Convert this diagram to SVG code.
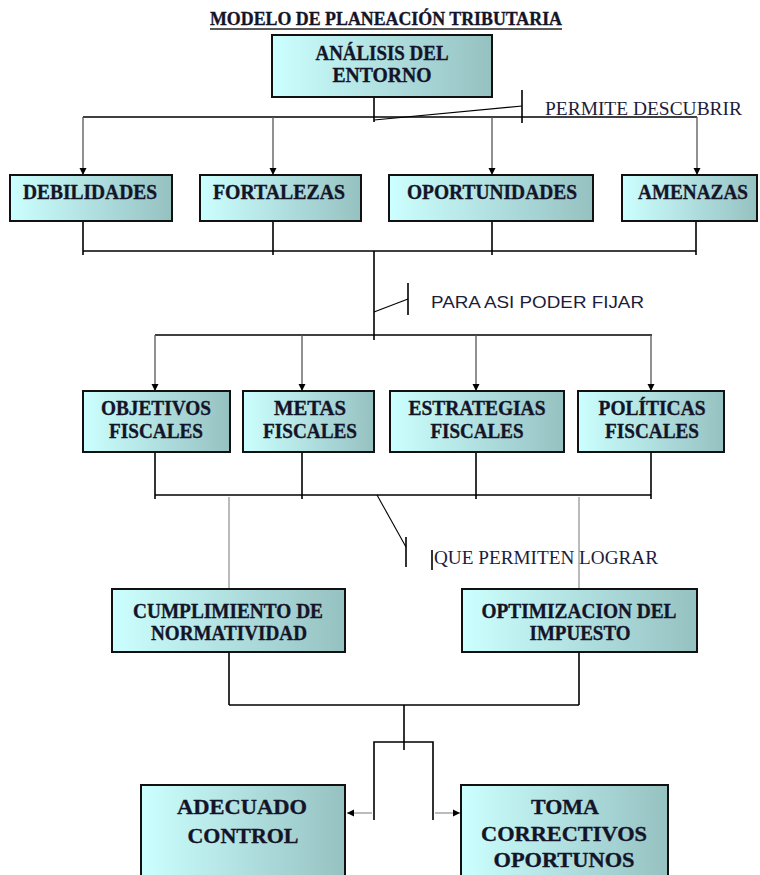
<svg xmlns="http://www.w3.org/2000/svg" width="760" height="875" viewBox="0 0 760 875">
<defs>
<linearGradient id="g" x1="0" y1="0" x2="1" y2="0">
<stop offset="0" stop-color="#ccffff"/>
<stop offset="1" stop-color="#96c1c1"/>
</linearGradient>
<marker id="ah" markerWidth="8" markerHeight="8" refX="7" refY="4" orient="auto" markerUnits="userSpaceOnUse">
<path d="M0,0.5 L7,4 L0,7.5 Z" fill="#000"/>
</marker>
</defs>
<style>
.box{fill:url(#g);stroke:#111;stroke-width:2}
.t{font-family:"Liberation Serif","Times New Roman",serif;font-weight:bold;font-size:20.5px;fill:#141428;stroke:#141428;stroke-width:0.35;text-anchor:middle}
.t5{font-size:22px}
.ttl{font-size:19px}
.lbl{font-family:"Liberation Serif","Times New Roman",serif;font-size:18.5px;fill:#1c1c3a}
.c{stroke:#000;stroke-width:1.6;fill:none}
.thin{stroke:#000;stroke-width:1.1;fill:none}
.g1{stroke:#555;stroke-width:1.3;fill:none}
.g2{stroke:#aaa;stroke-width:1.6;fill:none}
</style>
<g id="title">
<text x="386" y="25" class="t ttl" textLength="352" lengthAdjust="spacingAndGlyphs">MODELO DE PLANEACIÓN TRIBUTARIA</text>
<line x1="210" y1="29" x2="562" y2="29" stroke="#222" stroke-width="1.5"/>
</g>
<g id="connectors">
<line class="c" x1="374" y1="90" x2="374" y2="122"/>
<line class="c" x1="83" y1="117" x2="697" y2="117"/>
<line class="thin" x1="374" y1="120" x2="522" y2="106"/>
<line class="c" x1="522" y1="90" x2="522" y2="123"/>
<line class="g1" x1="83" y1="117" x2="83" y2="175" marker-end="url(#ah)"/>
<line class="g1" x1="273" y1="117" x2="273" y2="175" marker-end="url(#ah)"/>
<line class="g1" x1="492" y1="117" x2="492" y2="175" marker-end="url(#ah)"/>
<line class="g1" x1="697" y1="117" x2="697" y2="175" marker-end="url(#ah)"/>
<line class="c" x1="83" y1="221" x2="83" y2="255"/>
<line class="c" x1="273" y1="221" x2="273" y2="255"/>
<line class="c" x1="492" y1="221" x2="492" y2="255"/>
<line class="c" x1="696" y1="221" x2="696" y2="255"/>
<line class="c" x1="83" y1="251" x2="696" y2="251"/>
<line class="c" x1="374" y1="251" x2="374" y2="340"/>
<line class="thin" x1="374" y1="312" x2="408" y2="299"/>
<line class="c" x1="408" y1="283" x2="408" y2="315"/>
<line class="c" x1="155" y1="335" x2="652" y2="335"/>
<line class="g1" x1="155" y1="335" x2="155" y2="391" marker-end="url(#ah)"/>
<line class="g1" x1="302" y1="335" x2="302" y2="391" marker-end="url(#ah)"/>
<line class="g1" x1="476" y1="335" x2="476" y2="391" marker-end="url(#ah)"/>
<line class="g1" x1="651" y1="335" x2="651" y2="391" marker-end="url(#ah)"/>
<line class="c" x1="155" y1="452" x2="155" y2="499"/>
<line class="c" x1="302" y1="452" x2="302" y2="499"/>
<line class="c" x1="476" y1="452" x2="476" y2="499"/>
<line class="c" x1="651" y1="452" x2="651" y2="499"/>
<line class="c" x1="155" y1="495" x2="651" y2="495"/>
<line class="g2" x1="229" y1="497" x2="229" y2="589"/>
<line class="g2" x1="579" y1="497" x2="579" y2="589"/>
<line class="thin" x1="377" y1="495" x2="406" y2="547"/>
<line class="c" x1="406" y1="537" x2="406" y2="567"/>
<line class="c" x1="432" y1="550" x2="432" y2="570"/>
<line class="c" x1="229" y1="652" x2="229" y2="705"/>
<line class="c" x1="579" y1="652" x2="579" y2="705"/>
<line class="c" x1="229" y1="705" x2="579" y2="705"/>
<line class="c" x1="404" y1="705" x2="404" y2="750"/>
<polyline class="c" points="374,820 374,742 433,742 433,820"/>
<line class="g2" x1="372" y1="813" x2="347" y2="813" marker-end="url(#ah)"/>
<line class="g2" x1="435" y1="813" x2="460" y2="813" marker-end="url(#ah)"/>
</g>
<g id="lbl-permite"><text class="lbl" x="545" y="115" textLength="197" lengthAdjust="spacingAndGlyphs">PERMITE DESCUBRIR</text></g>
<g id="lbl-para"><text class="lbl" x="431" y="308" style="font-family:'Liberation Sans',Arial,sans-serif;font-size:17px" textLength="213" lengthAdjust="spacingAndGlyphs">PARA ASI PODER FIJAR</text></g>
<g id="lbl-que"><text class="lbl" x="434" y="564" textLength="224" lengthAdjust="spacingAndGlyphs">QUE PERMITEN LOGRAR</text></g>
<g id="analisis">
<rect class="box" x="272" y="35" width="220" height="62"/>
<text class="t" x="382" y="60" textLength="133" lengthAdjust="spacingAndGlyphs">ANÁLISIS DEL</text>
<text class="t" x="382" y="82" textLength="99" lengthAdjust="spacingAndGlyphs">ENTORNO</text>
</g>
<g id="debilidades">
<rect class="box" x="10" y="175" width="162" height="46"/>
<text class="t" x="90" y="199" textLength="134" lengthAdjust="spacingAndGlyphs">DEBILIDADES</text>
</g>
<g id="fortalezas">
<rect class="box" x="200" y="175" width="161" height="46"/>
<text class="t" x="279" y="199" textLength="132" lengthAdjust="spacingAndGlyphs">FORTALEZAS</text>
</g>
<g id="oportunidades">
<rect class="box" x="389" y="175" width="204" height="46"/>
<text class="t" x="492" y="199" textLength="170" lengthAdjust="spacingAndGlyphs">OPORTUNIDADES</text>
</g>
<g id="amenazas">
<rect class="box" x="622" y="175" width="135" height="46"/>
<text class="t" x="693" y="199" textLength="110" lengthAdjust="spacingAndGlyphs">AMENAZAS</text>
</g>
<g id="objetivos">
<rect class="box" x="83" y="391" width="147" height="61"/>
<text class="t" x="156" y="415" textLength="110" lengthAdjust="spacingAndGlyphs">OBJETIVOS</text>
<text class="t" x="156" y="438" textLength="94" lengthAdjust="spacingAndGlyphs">FISCALES</text>
</g>
<g id="metas">
<rect class="box" x="243" y="391" width="131" height="61"/>
<text class="t" x="310" y="415" textLength="72" lengthAdjust="spacingAndGlyphs">METAS</text>
<text class="t" x="310" y="438" textLength="94" lengthAdjust="spacingAndGlyphs">FISCALES</text>
</g>
<g id="estrategias">
<rect class="box" x="390" y="391" width="174" height="61"/>
<text class="t" x="477" y="415" textLength="137" lengthAdjust="spacingAndGlyphs">ESTRATEGIAS</text>
<text class="t" x="477" y="438" textLength="93" lengthAdjust="spacingAndGlyphs">FISCALES</text>
</g>
<g id="politicas">
<rect class="box" x="578" y="391" width="146" height="61"/>
<text class="t" x="652" y="415" textLength="107" lengthAdjust="spacingAndGlyphs">POLÍTICAS</text>
<text class="t" x="652" y="438" textLength="94" lengthAdjust="spacingAndGlyphs">FISCALES</text>
</g>
<g id="cumplimiento">
<rect class="box" x="112" y="589" width="233" height="63"/>
<text class="t" x="228" y="618" textLength="190" lengthAdjust="spacingAndGlyphs">CUMPLIMIENTO DE</text>
<text class="t" x="229" y="640" textLength="156" lengthAdjust="spacingAndGlyphs">NORMATIVIDAD</text>
</g>
<g id="optimizacion">
<rect class="box" x="462" y="589" width="235" height="63"/>
<text class="t" x="579" y="618" textLength="195" lengthAdjust="spacingAndGlyphs">OPTIMIZACION DEL</text>
<text class="t" x="580" y="640" textLength="101" lengthAdjust="spacingAndGlyphs">IMPUESTO</text>
</g>
<g id="adecuado">
<rect class="box" x="141" y="785" width="204" height="100"/>
<text class="t t5" x="242" y="814" textLength="130" lengthAdjust="spacingAndGlyphs">ADECUADO</text>
<text class="t t5" x="243" y="843" textLength="111" lengthAdjust="spacingAndGlyphs">CONTROL</text>
</g>
<g id="toma">
<rect class="box" x="461" y="785" width="207" height="100"/>
<text class="t t5" x="565" y="814" textLength="68" lengthAdjust="spacingAndGlyphs">TOMA</text>
<text class="t t5" x="564" y="841" textLength="166" lengthAdjust="spacingAndGlyphs">CORRECTIVOS</text>
<text class="t t5" x="564" y="867" textLength="141" lengthAdjust="spacingAndGlyphs">OPORTUNOS</text>
</g>
</svg>
